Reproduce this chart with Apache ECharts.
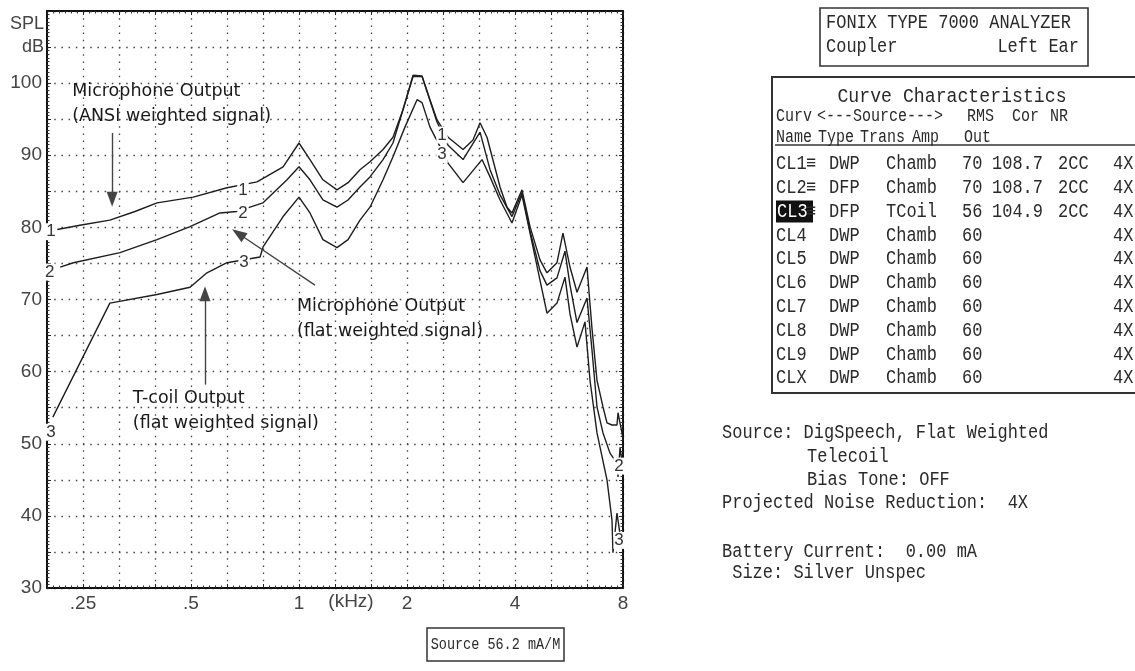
<!DOCTYPE html>
<html>
<head>
<meta charset="utf-8">
<script src="https://cdn.jsdelivr.net/npm/echarts@6/dist/echarts.min.js"></script>
<style>
  html, body { margin: 0; padding: 0; background: #fff; }
  #chart { width: 1135px; height: 671px; }
</style>
</head>
<body>
<div id="chart"></div>
<script>
// ---- Measured curves: frequency (kHz) and output level (dB SPL) ----
const cl1Freq = [0.212, 0.245, 0.297, 0.349, 0.402, 0.507, 0.630, 0.764, 0.903, 1.0, 1.073, 1.166, 1.276, 1.37, 1.479, 1.577, 1.715, 1.828, 1.949, 2.079, 2.203, 2.318, 2.425, 2.603, 2.866, 3.055, 3.196, 3.342, 3.634, 3.801, 3.923, 4.183, 4.405, 4.696, 4.911, 5.237, 5.442, 5.693, 5.955, 6.35, 6.556, 6.77, 7.036, 7.219, 7.455, 7.697, 7.747, 7.948, 8.0];
const cl1Level = [79.7, 80.3, 81.0, 82.2, 83.4, 84.2, 85.5, 86.3, 88.4, 91.7, 89.4, 86.6, 85.2, 86.2, 88.0, 89.1, 90.8, 92.5, 96.3, 101.1, 101.0, 97.7, 94.9, 92.5, 90.8, 92.1, 94.5, 92.5, 85.6, 82.8, 82.0, 85.2, 80.1, 75.5, 73.7, 75.1, 79.2, 74.5, 71.0, 74.5, 66.0, 58.8, 55.1, 52.9, 52.6, 52.6, 54.3, 51.5, 50.5];

const cl2Freq = [0.216, 0.235, 0.317, 0.402, 0.497, 0.602, 0.671, 0.730, 0.794, 0.926, 1.0, 1.073, 1.166, 1.276, 1.37, 1.479, 1.577, 1.715, 1.828, 1.949, 2.079, 2.203, 2.425, 2.603, 2.866, 3.196, 3.408, 3.634, 3.923, 4.183, 4.405, 4.696, 4.911, 5.237, 5.513, 5.693, 5.955, 6.35, 6.556, 6.77, 7.036, 7.36, 7.60, 7.697, 7.747, 7.85, 8.0];
const cl2Level = [74.5, 75.1, 76.5, 78.3, 80.1, 82.0, 82.2, 82.8, 83.4, 86.6, 88.4, 86.6, 83.8, 82.8, 83.8, 85.6, 87.0, 89.4, 91.7, 96.3, 100.9, 100.9, 94.6, 91.4, 89.4, 93.2, 88.0, 84.5, 81.5, 84.8, 79.5, 74.0, 72.0, 73.0, 76.7, 72.0, 66.8, 70.2, 63.0, 55.1, 51.5, 48.7, 47.7, 48.0, 45.4, 49.5, 46.4];

const cl3Freq = [0.206, 0.297, 0.402, 0.497, 0.554, 0.630, 0.779, 0.794, 0.903, 1.0, 1.073, 1.166, 1.276, 1.37, 1.479, 1.577, 1.715, 1.828, 1.974, 2.133, 2.203, 2.318, 2.472, 2.603, 2.866, 3.237, 3.408, 3.634, 3.923, 4.183, 4.405, 4.911, 5.237, 5.513, 5.693, 5.955, 6.268, 6.473, 6.77, 7.219, 7.455, 7.501, 7.697, 7.845, 7.948, 8.0];
const cl3Level = [53.7, 69.5, 70.7, 71.7, 73.7, 75.1, 75.9, 77.3, 81.5, 84.2, 82.0, 78.3, 77.2, 78.3, 81.0, 82.8, 86.6, 89.8, 93.9, 97.7, 97.3, 93.9, 91.2, 88.9, 86.2, 89.4, 87.0, 83.8, 80.6, 84.5, 79.2, 68.1, 69.5, 73.1, 68.0, 63.4, 66.9, 58.8, 51.5, 45.0, 39.4, 34.9, 40.4, 37.5, 35.7, 36.7];

// ---- Axis ticks ----
const xTickFreqs = [0.25, 0.5, 1, 2, 4, 8];
const xTickLabels = ['.25', '.5', '1', '2', '4', '8'];
const yTickValues = [30, 40, 50, 60, 70, 80, 90, 100];

// ---- Analyzer report table ----
const tableNames = ['CL1', 'CL2', 'CL3', 'CL4', 'CL5', 'CL6', 'CL7', 'CL8', 'CL9', 'CLX'];
const tableMarks = ['≡', '≡', '≡', '', '', '', '', '', '', ''];
const tableTypes = ['DWP', 'DFP', 'DFP', 'DWP', 'DWP', 'DWP', 'DWP', 'DWP', 'DWP', 'DWP'];
const tableTrans = ['Chamb', 'Chamb', 'TCoil', 'Chamb', 'Chamb', 'Chamb', 'Chamb', 'Chamb', 'Chamb', 'Chamb'];
const tableAmp = ['70', '70', '56', '60', '60', '60', '60', '60', '60', '60'];
const tableRms = ['108.7', '108.7', '104.9', '', '', '', '', '', '', ''];
const tableCor = ['2CC', '2CC', '2CC', '', '', '', '', '', '', ''];
const tableNr = ['4X', '4X', '4X', '4X', '4X', '4X', '4X', '4X', '4X', '4X'];

// frequency axis runs in third-octave steps relative to 1 kHz
const toThird = f => 3 * Math.log2(f);
const pairs = (freq, level) => freq.map((f, i) => [toThird(f), level[i]]);

// curve number tags written on the traces
const curveTags = [
  { tag: '1', f: 0.2036, db: 79.4 }, { tag: '2', f: 0.2020, db: 73.8 }, { tag: '3', f: 0.2036, db: 51.6 },
  { tag: '1', f: 0.698, db: 85.2 }, { tag: '2', f: 0.698, db: 82.0 }, { tag: '3', f: 0.703, db: 75.2 },
  { tag: '1', f: 2.504, db: 92.8 }, { tag: '3', f: 2.504, db: 90.1 },
  { tag: '2', f: 7.80, db: 46.9 }, { tag: '3', f: 7.80, db: 36.6 }
];

// hand-written notes and their arrows (kHz, dB)
const notes = [
  { text: 'Microphone Output\n(ANSI weighted signal)', f: 0.2333, db: 97.1 },
  { text: 'Microphone Output\n(flat weighted signal)', f: 0.987, db: 67.3 },
  { text: 'T-coil Output\n(flat weighted signal)', f: 0.3443, db: 54.6 }
];
const arrows = [
  { f1: 0.3014, db1: 93.1, f2: 0.3014, db2: 83.9 },
  { f1: 1.108, db1: 72.0, f2: 0.6775, db2: 79.15 },
  { f1: 0.547, db1: 58.2, f2: 0.547, db2: 70.8 }
];

const LABEL_FONT = '"Liberation Sans", Arial, sans-serif';
const MONO = '"Liberation Mono", "DejaVu Sans Mono", monospace';
const NOTE_FONT = '"DejaVu Sans", sans-serif';
const INK = '#1e1e1e';

const chart = echarts.init(document.getElementById('chart'), null, { renderer: 'canvas' });

const tickStyle = { lineStyle: { color: '#222', width: 1 } };

function xAxisCfg(pos, main) {
  return {
    type: 'value', position: pos, min: -7, max: 9, interval: 1,
    axisLine: { show: true, onZero: false, lineStyle: { color: '#111', width: 2 } },
    axisTick: { show: true, inside: true, length: 4, ...tickStyle },
    minorTick: { show: true, splitNumber: 6, length: 2.5, lineStyle: { color: '#333', width: 1 } },
    splitLine: { show: main, lineStyle: { color: '#444', width: 1.3, type: [1.5, 5.7] } },
    axisLabel: main ? {
      show: true, margin: 6, color: '#444', fontFamily: LABEL_FONT, fontSize: 19,
      formatter: v => {
        const i = xTickFreqs.findIndex(f => Math.abs(toThird(f) - v) < 1e-6);
        return i >= 0 ? xTickLabels[i] : '';
      }
    } : { show: false }
  };
}
function yAxisCfg(pos, main) {
  return {
    type: 'value', position: pos, min: 30, max: 110, interval: 5,
    axisLine: { show: true, onZero: false, lineStyle: { color: '#111', width: 2 } },
    axisTick: { show: true, inside: true, length: 4, ...tickStyle },
    minorTick: { show: true, splitNumber: 10, length: 2.5, lineStyle: { color: '#333', width: 1 } },
    splitLine: { show: main, lineStyle: { color: '#444', width: 1.3, type: [1.5, 5.7] } },
    axisLabel: main ? {
      show: true, margin: 5, color: '#444', fontFamily: LABEL_FONT, fontSize: 19,
      formatter: v => (yTickValues.indexOf(v) >= 0 ? String(v) : '')
    } : { show: false }
  };
}

function curveSeries(name, freq, level) {
  return {
    name, type: 'line', data: pairs(freq, level), showSymbol: false, symbol: 'none',
    lineStyle: { color: INK, width: 1.4 }, silent: true, z: 3
  };
}

// ---- report panel on the right ----
const graphics = [];
function txt(s, x, y, opts = {}) {
  const mono = !opts.family;
  graphics.push({
    type: 'text', x, y, silent: true, z: 20,
    scaleX: opts.sx || 1, scaleY: opts.sy || (mono ? 1.14 : 1),
    style: {
      text: s, font: (opts.size || 17) + 'px ' + (opts.family || MONO),
      fill: opts.fill || '#2a2a2a',
      align: opts.align || 'left', verticalAlign: 'middle',
      textAlign: opts.align || 'left', textVerticalAlign: 'middle'
    }
  });
}
function box(x, y, w, h, lw, fill) {
  graphics.push({
    type: 'rect', silent: true, z: 19, shape: { x, y, width: w, height: h },
    style: { fill: fill || 'none', stroke: fill ? 'none' : '#333', lineWidth: lw || 1.5 }
  });
}

// axis titles
txt('SPL', 44, 24, { family: LABEL_FONT, size: 18, align: 'right', fill: '#444' });
txt('dB', 44, 47, { family: LABEL_FONT, size: 18, align: 'right', fill: '#444' });
txt('(kHz)', 351, 602, { family: LABEL_FONT, size: 19, align: 'center', fill: '#444' });

// analyzer header box
box(820, 8, 268, 58, 1.6);
txt('FONIX TYPE 7000 ANALYZER', 826, 23);
txt('Coupler', 826, 47);
txt('Left Ear', 1079, 47, { align: 'right' });

// curve characteristics table
box(772, 77, 400, 316, 2);
txt('Curve Characteristics', 952, 97, { align: 'center', sx: 1.07 });
const hs = { size: 15, sy: 1.25 };
txt('Curv', 776, 116, hs); txt('<---Source--->', 817, 116, hs); txt('RMS', 967, 116, hs); txt('Cor', 1012, 116, hs); txt('NR', 1050, 116, hs);
txt('Name', 776, 137, hs); txt('Type', 818, 137, hs); txt('Trans', 860, 137, hs); txt('Amp', 912, 137, hs); txt('Out', 964, 137, hs);
graphics.push({ type: 'line', silent: true, z: 19, shape: { x1: 775, y1: 145, x2: 1135, y2: 145 }, style: { stroke: '#333', lineWidth: 1.4 } });
tableNames.forEach((n, i) => {
  const y = 164 + i * 23.8;
  if (n === 'CL3') {
    box(776, y - 11, 37, 22, 0, '#111');
    txt(n, 777, y, { fill: '#fff' });
  } else {
    txt(n, 776, y);
  }
  if (tableMarks[i]) txt(tableMarks[i], 806, y);
  txt(tableTypes[i], 829, y);
  txt(tableTrans[i], 886, y);
  txt(tableAmp[i], 962, y);
  if (tableRms[i]) txt(tableRms[i], 992, y);
  if (tableCor[i]) txt(tableCor[i], 1058, y);
  txt(tableNr[i], 1113, y);
});

// measurement settings
txt('Source: DigSpeech, Flat Weighted', 722, 433);
txt('Telecoil', 807, 457);
txt('Bias Tone: OFF', 807, 480);
txt('Projected Noise Reduction:  4X', 722, 503);
txt('Battery Current:  0.00 mA', 722, 552);
txt(' Size: Silver Unspec', 722, 573);

// source level box under the plot
box(427, 628, 137, 33, 1.5);
txt('Source 56.2 mA/M', 495.5, 645, { align: 'center', size: 13.5, sy: 1.2 });

const option = {
  animation: false,
  backgroundColor: '#fff',
  grid: { left: 47, right: 512, top: 11, bottom: 83, containLabel: false },
  xAxis: [xAxisCfg('bottom', true), xAxisCfg('top', false)],
  yAxis: [yAxisCfg('left', true), yAxisCfg('right', false)],
  series: [
    curveSeries('CL1', cl1Freq, cl1Level),
    curveSeries('CL2', cl2Freq, cl2Level),
    curveSeries('CL3', cl3Freq, cl3Level),
    {
      name: 'notes', type: 'line', data: [], silent: true, z: 10,
      markLine: {
        silent: true, symbol: ['none', 'triangle'], symbolSize: [11, 15],
        label: { show: false }, emphasis: { disabled: true },
        lineStyle: { type: 'solid', color: '#444', width: 1.4 },
        itemStyle: { color: '#111' },
        data: arrows.map(a => [
          { coord: [toThird(a.f1), a.db1] },
          { coord: [toThird(a.f2), a.db2] }
        ])
      },
      markPoint: {
        silent: true, symbol: 'circle', symbolSize: 1,
        itemStyle: { color: 'rgba(0,0,0,0)' },
        data: [
          ...curveTags.map(t => ({
            name: t.tag, coord: [toThird(t.f), t.db],
            label: {
              show: true, position: 'inside', formatter: '{b}', color: '#333',
              fontFamily: LABEL_FONT, fontSize: 17, backgroundColor: '#fff', padding: [0, 1]
            }
          })),
          ...notes.map(n => ({
            name: n.text, coord: [toThird(n.f), n.db],
            label: {
              show: true, position: 'inside', align: 'left', formatter: '{b}', color: '#1a1a1a',
              fontFamily: NOTE_FONT, fontSize: 17.5, lineHeight: 25
            }
          }))
        ]
      }
    }
  ],
  graphic: graphics
};
chart.setOption(option);
</script>
</body>
</html>
